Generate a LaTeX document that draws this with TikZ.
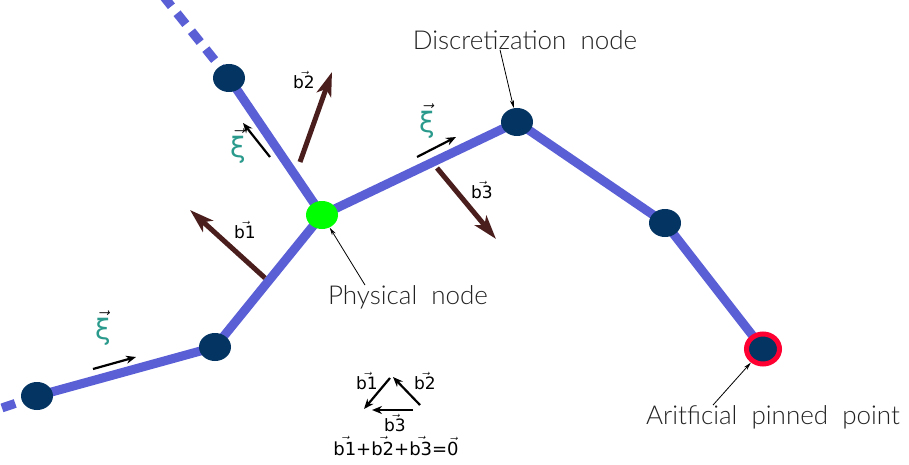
\documentclass[tikz,border=0pt]{standalone}
\usepackage{amsmath}
\usepackage{fontspec}
\setmainfont{DejaVu Sans}
\newfontfamily\thinfont{Lato Light}
\definecolor{LinkBlue}{HTML}{5A5FD6}
\definecolor{NodeBlue}{HTML}{033462}
\definecolor{VecBrown}{HTML}{4B1E1E}
\definecolor{XiTeal}{HTML}{2A9A8C}
\definecolor{PinRed}{HTML}{FF0033}
\definecolor{LabelGray}{HTML}{222222}
\usetikzlibrary{shapes.geometric, arrows.meta, backgrounds}

\newcommand{\vlab}[1]{$\vec{\text{#1}}$}
\newcommand{\xivec}{$\vec{\text{\textcolor{XiTeal}{ξ}}}$}

\begin{document}
\begin{tikzpicture}[
  x=1pt, y=-1pt,
  link/.style={draw=LinkBlue, line width=9pt},
  dashlink/.style={link, dash pattern=on 14pt off 9pt},
  dnode/.style={ellipse, fill=NodeBlue, minimum width=32pt, minimum height=28pt, inner sep=0pt},
  pnode/.style={dnode, fill=green},
  pinnode/.style={dnode, draw=PinRed, line width=5pt, minimum width=33pt, minimum height=30pt},
  vecarr/.style={draw=VecBrown, line width=5pt, -{Stealth[length=24pt, width=15pt, inset=6pt]}},
  tanarr/.style={draw=black, line width=2.2pt, -{Stealth[length=10pt, width=8pt]}},
  note/.style={draw=black, line width=0.8pt, -{Stealth[length=8pt, width=4pt]}},
  blab/.style={font=\fontsize{17}{17}\selectfont, inner sep=0pt},
  xilab/.style={font=\fontsize{28}{28}\selectfont, inner sep=0pt},
  txt/.style={font=\thinfont\fontsize{26}{26}\selectfont, text=LabelGray, inner sep=0pt},
]
\useasboundingbox (0,0) rectangle (909,465);

% rod nodes
\node[dnode]   (A) at (229,78)  {};
\node[pnode]   (P) at (322,215) {};
\node[dnode]   (D) at (517,122) {};
\node[dnode]   (E) at (665,223) {};
\node[pinnode] (F) at (763,349) {};
\node[dnode]   (L1) at (215,347) {};
\node[dnode]   (L0) at (37,396)  {};
\coordinate (topend)  at (160,-8);
\coordinate (leftend) at (-10,412);

% rods
\begin{scope}[on background layer]
\draw[dashlink] (A.center) -- (topend);
\draw[dashlink] (L0.center) -- (leftend);
\draw[link] (L0.center) -- (L1.center) -- (P.center) -- (A.center);
\draw[link] (P.center) -- (D.center) -- (E.center) -- (F.center);
\end{scope}

% force vectors
\coordinate (b1s) at (265,278); \coordinate (b1e) at (190,210);
\coordinate (b2s) at (300,162); \coordinate (b2e) at (332,72);
\coordinate (b3s) at (437,168); \coordinate (b3e) at (496,239);
\draw[vecarr] (b1s) -- (b1e);
\draw[vecarr] (b2s) -- (b2e);
\draw[vecarr] (b3s) -- (b3e);
\node[blab] (lb1) at (245,230) {\vlab{b1}};
\node[blab] (lb2) at (304,80)  {\vlab{b2}};
\node[blab] (lb3) at (482,190) {\vlab{b3}};

% tangent vectors
\coordinate (t1s) at (270,157); \coordinate (t1e) at (243,123);
\coordinate (t2s) at (417,157); \coordinate (t2e) at (456,137);
\coordinate (t3s) at (93,369);  \coordinate (t3e) at (136,357);
\draw[tanarr] (t1s) -- (t1e);
\draw[tanarr] (t2s) -- (t2e);
\draw[tanarr] (t3s) -- (t3e);
\node[xilab] (xi1) at (238,146) {\xivec};
\node[xilab] (xi2) at (427,121) {\xivec};
\node[xilab] (xi3) at (103,328) {\xivec};

% annotations
\node[txt] (dlabel) at (525,40)  {Discretization\ \ node};
\node[txt] (plabel) at (408,297) {Physical\ \ node};
\node[txt] (alabel) at (773,417) {Aritficial\ \ pinned\ \ point};
\draw[note] ([xshift=-25pt]dlabel.south) -- (D);
\draw[note] ([xshift=-43pt]plabel.north) -- (P);
\draw[note] ([xshift=-60pt]alabel.north) -- (F);

% vector sum triangle
\coordinate (s1) at (390,378); \coordinate (s1e) at (364,409);
\coordinate (s2) at (420,405); \coordinate (s2e) at (393,377);
\coordinate (s3) at (413,410); \coordinate (s3e) at (372,410);
\draw[tanarr] (s1) -- (s1e);
\draw[tanarr] (s2) -- (s2e);
\draw[tanarr] (s3) -- (s3e);
\node[blab] (tb1) at (367,381) {\vlab{b1}};
\node[blab] (tb2) at (425,381) {\vlab{b2}};
\node[blab] (tb3) at (395,423) {\vlab{b3}};
\node[blab, font=\fontsize{18}{18}\selectfont] (sum) at (396,446) {\vlab{b1}+\vlab{b2}+\vlab{b3}=\vlab{0}};
\end{tikzpicture}
\end{document}
